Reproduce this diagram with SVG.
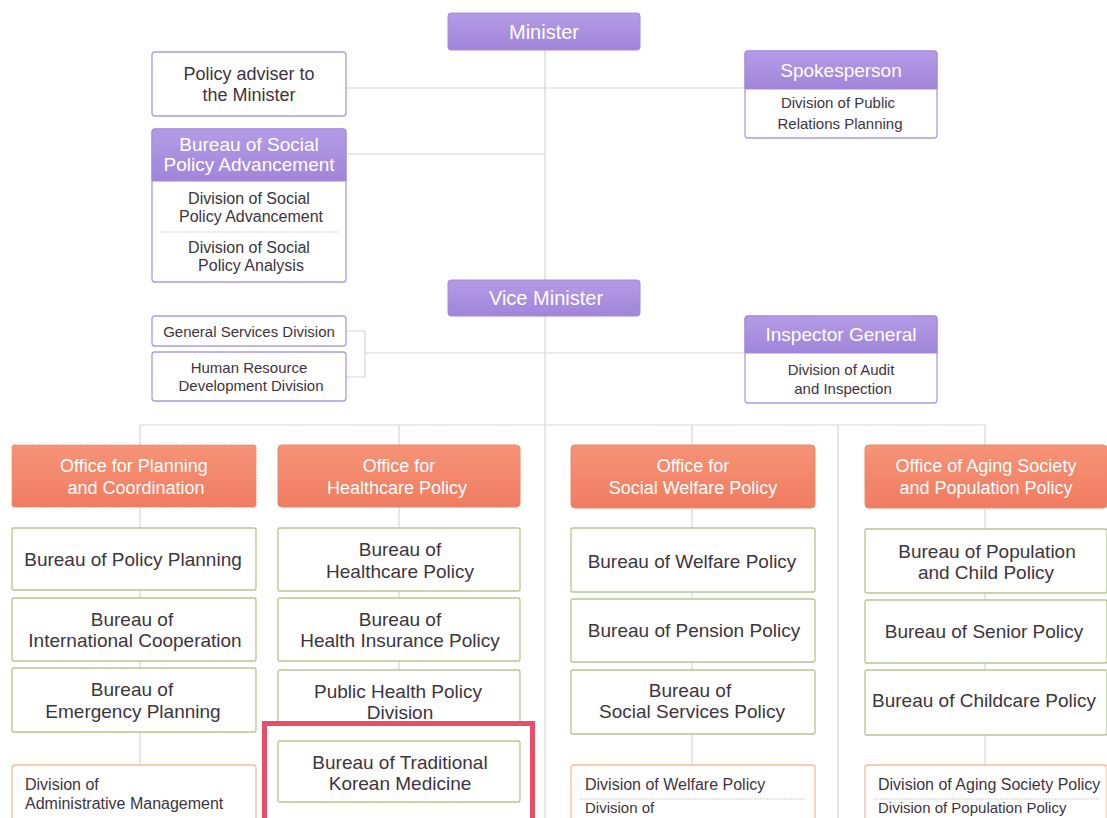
<svg xmlns="http://www.w3.org/2000/svg" width="1107" height="818" viewBox="0 0 1107 818">
<defs>
<linearGradient id="gp" x1="0" y1="0" x2="0" y2="1"><stop offset="0" stop-color="#b49be6"/><stop offset="1" stop-color="#a185da"/></linearGradient>
<linearGradient id="go" x1="0" y1="0" x2="0" y2="1"><stop offset="0" stop-color="#f69377"/><stop offset="1" stop-color="#f07c60"/></linearGradient>
</defs>
<style>
text{font-family:"Liberation Sans",Arial,sans-serif;fill:#3d3540;text-anchor:middle}
.w{fill:#ffffff}
.l{text-anchor:start}
.pur{fill:url(#gp);stroke:#a48ad9;stroke-width:1}
.pbox{fill:#ffffff;stroke:#a99ce3;stroke-width:1.3}
.org{fill:url(#go);stroke:#f0866a;stroke-width:1}
.grn{fill:#ffffff;stroke:#b7c690;stroke-width:1.3}
.div{fill:#ffffff;stroke:#f5bc9f;stroke-width:1.3}
.ln{stroke:#d6d6d6;stroke-width:1.2;fill:none}
.sep{stroke:#cfcfcf;stroke-width:1;stroke-dasharray:2 1}
.f20{font-size:20px}
.f19{font-size:19px}
.f18{font-size:18px}
.f16{font-size:16px}
.f15{font-size:15px}
</style>
<rect width="1107" height="818" fill="#ffffff"/>
<g id="connectors">
<path class="ln" d="M545 50V280M346 88H745M346 154H545M545 316V818M365 353H745M346 331H365V377H346M140 425H985M140 425V445M399 425V445M692 425V445M985 425V445M838 425V818"/>
<path class="ln" d="M140 507V528M140 590V598M140 661V668M140 732V765M399 507V528M399 591V598M399 661V670M399 732V741M692 508V528M692 592V599M692 662V670M692 734V765M985 508V529M985 593V600M985 663V670M985 735V765"/>
</g>
<g id="minister"><rect class="pur" x="448" y="13" width="192" height="37" rx="3"/><text class="w f20" x="544" y="39">Minister</text></g>
<g id="policy-adviser"><rect class="pbox" x="152" y="52" width="194" height="64" rx="3"/><text class="f18" x="249" y="80">Policy adviser to</text><text class="f18" x="249" y="101">the Minister</text></g>
<g id="bureau-social-policy">
<rect class="pbox" x="152" y="129" width="194" height="153" rx="3"/>
<path class="pur" d="M152 132a3 3 0 0 1 3-3h188a3 3 0 0 1 3 3V181H152Z"/>
<text class="w f19" x="249" y="151">Bureau of Social</text><text class="w f19" x="249" y="171">Policy Advancement</text>
<text class="f16" x="249" y="204">Division of Social</text><text class="f16" x="251" y="222">Policy Advancement</text>
<line class="sep" x1="160" y1="232" x2="340" y2="232"/>
<text class="f16" x="249" y="253">Division of Social</text><text class="f16" x="251" y="271">Policy Analysis</text>
</g>
<g id="spokesperson">
<rect class="pbox" x="745" y="51" width="192" height="87" rx="3"/>
<path class="pur" d="M745 54a3 3 0 0 1 3-3h186a3 3 0 0 1 3 3V89H745Z"/>
<text class="w f19" x="841" y="77">Spokesperson</text>
<text class="f15" x="838" y="108">Division of Public</text><text class="f15" x="840" y="129">Relations Planning</text>
</g>
<g id="vice-minister"><rect class="pur" x="448" y="280" width="192" height="36" rx="3"/><text class="w f20" x="546" y="305">Vice Minister</text></g>
<g id="general-services"><rect class="pbox" x="152" y="316" width="194" height="30" rx="3"/><text class="f15" x="249" y="337">General Services Division</text></g>
<g id="hr-development"><rect class="pbox" x="152" y="352" width="194" height="49" rx="3"/><text class="f15" x="249" y="373">Human Resource</text><text class="f15" x="251" y="391">Development Division</text></g>
<g id="inspector-general">
<rect class="pbox" x="745" y="316" width="192" height="87" rx="3"/>
<path class="pur" d="M745 319a3 3 0 0 1 3-3h186a3 3 0 0 1 3 3V353H745Z"/>
<text class="w f19" x="841" y="341">Inspector General</text>
<text class="f15" x="841" y="375">Division of Audit</text><text class="f15" x="843" y="394">and Inspection</text>
</g>
<g id="office-planning"><rect class="org" x="12" y="445" width="244" height="62" rx="2" stroke="#6a4a50" stroke-dasharray="2 1"/><text class="w f18" x="134" y="472">Office for Planning</text><text class="w f18" x="136" y="494">and Coordination</text></g>
<g id="office-healthcare"><rect class="org" x="278" y="445" width="242" height="62" rx="4"/><text class="w f18" x="399" y="472">Office for</text><text class="w f18" x="397" y="494">Healthcare Policy</text></g>
<g id="office-welfare"><rect class="org" x="571" y="445" width="244" height="63" rx="4"/><text class="w f18" x="693" y="472">Office for</text><text class="w f18" x="693" y="494">Social Welfare Policy</text></g>
<g id="office-aging"><rect class="org" x="865" y="445" width="242" height="63" rx="4"/><text class="w f18" x="986" y="472">Office of Aging Society</text><text class="w f18" x="986" y="494">and Population Policy</text></g>
<g id="bureau-policy-planning"><rect class="grn" x="12" y="528" width="244" height="62" rx="2"/><text class="f19" x="133" y="566">Bureau of Policy Planning</text></g>
<g id="bureau-international"><rect class="grn" x="12" y="598" width="244" height="63" rx="2"/><text class="f19" x="132" y="626">Bureau of</text><text class="f19" x="135" y="647">International Cooperation</text></g>
<g id="bureau-emergency"><rect class="grn" x="12" y="668" width="244" height="64" rx="2"/><text class="f19" x="132" y="696">Bureau of</text><text class="f19" x="133" y="718">Emergency Planning</text></g>
<g id="bureau-healthcare"><rect class="grn" x="278" y="528" width="242" height="63" rx="2"/><text class="f19" x="400" y="556">Bureau of</text><text class="f19" x="400" y="578">Healthcare Policy</text></g>
<g id="bureau-health-insurance"><rect class="grn" x="278" y="598" width="242" height="63" rx="2"/><text class="f19" x="400" y="626">Bureau of</text><text class="f19" x="400" y="647">Health Insurance Policy</text></g>
<g id="public-health"><rect class="grn" x="278" y="670" width="242" height="62" rx="2"/><text class="f19" x="398" y="698">Public Health Policy</text><text class="f19" x="400" y="719">Division</text></g>
<g id="highlight"><rect x="264.5" y="723.5" width="268" height="100" fill="#ffffff" stroke="#e84e68" stroke-width="5"/></g>
<g id="bureau-traditional"><rect class="grn" x="278" y="741" width="242" height="61" rx="2"/><text class="f19" x="400" y="769">Bureau of Traditional</text><text class="f19" x="400" y="790">Korean Medicine</text></g>
<g id="bureau-welfare"><rect class="grn" x="571" y="528" width="244" height="64" rx="2"/><text class="f19" x="692" y="568">Bureau of Welfare Policy</text></g>
<g id="bureau-pension"><rect class="grn" x="571" y="599" width="244" height="63" rx="2"/><text class="f19" x="694" y="637">Bureau of Pension Policy</text></g>
<g id="bureau-social-services"><rect class="grn" x="571" y="670" width="244" height="64" rx="2"/><text class="f19" x="690" y="697">Bureau of</text><text class="f19" x="692" y="718">Social Services Policy</text></g>
<g id="bureau-population"><rect class="grn" x="865" y="529" width="242" height="64" rx="2"/><text class="f19" x="987" y="558">Bureau of Population</text><text class="f19" x="986" y="579">and Child Policy</text></g>
<g id="bureau-senior"><rect class="grn" x="865" y="600" width="242" height="63" rx="2"/><text class="f19" x="984" y="638">Bureau of Senior Policy</text></g>
<g id="bureau-childcare"><rect class="grn" x="865" y="670" width="242" height="65" rx="2"/><text class="f19" x="984" y="707">Bureau of Childcare Policy</text></g>
<g id="division-admin"><rect class="div" x="12" y="765" width="244" height="70" rx="3"/><text class="f16 l" x="25" y="790">Division of</text><text class="f16 l" x="25" y="809">Administrative Management</text></g>
<g id="division-welfare"><rect class="div" x="571" y="765" width="244" height="70" rx="3"/><text class="f16 l" x="585" y="790">Division of Welfare Policy</text><line class="sep" x1="580" y1="799" x2="806" y2="799"/><text class="f15 l" x="585" y="813">Division of</text></g>
<g id="division-aging"><rect class="div" x="865" y="765" width="242" height="70" rx="3"/><text class="f16 l" x="878" y="790">Division of Aging Society Policy</text><line class="sep" x1="874" y1="799" x2="1100" y2="799"/><text class="f15 l" x="878" y="813">Division of Population Policy</text></g>
</svg>
